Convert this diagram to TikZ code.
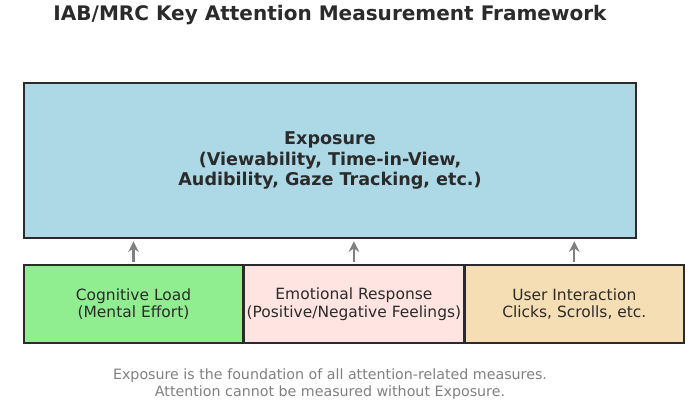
\documentclass[tikz,border=0pt]{standalone}
\usepackage{fontspec}
\setmainfont{DejaVu Sans}
\usetikzlibrary{positioning,arrows.meta}
\definecolor{boxblue}{HTML}{ADD8E6}
\definecolor{boxgreen}{HTML}{90EE90}
\definecolor{boxpink}{HTML}{FFE4E1}
\definecolor{boxwheat}{HTML}{F5DEB3}
\definecolor{inkdark}{HTML}{2B2B2B}
\tikzset{
  block/.style={rectangle, draw=inkdark, thick, text=inkdark, align=center, inner sep=0pt, font=\fontsize{8.8}{10}\selectfont},
  smallblock/.style={block, minimum width=4.38cm, minimum height=1.56cm},
  uparrow/.style={-{Stealth[length=6pt,width=6pt]}, very thick, draw=gray},
}
\begin{document}
\begin{tikzpicture}
\useasboundingbox (0,0) rectangle (14,8.28);

% Title
	\node (title) at (6.6,7.98) {\fontsize{11.4}{13}\selectfont\bfseries\color{inkdark} IAB/MRC Key Attention Measurement Framework};

% Exposure
	\node (expo) [block, fill=boxblue, minimum width=12.24cm, minimum height=3.1cm, font=\fontsize{10}{11.5}\selectfont\bfseries] at (6.6,5.07) {Exposure\\(Viewability, Time-in-View,\\Audibility, Gaze Tracking, etc.)};

% Attention components
	\node (cog) [smallblock, fill=boxgreen] at (2.67,2.2) {Cognitive Load\\(Mental Effort)};
	\node (emo) [smallblock, fill=boxpink, right=0pt of cog] {Emotional Response\\(Positive/Negative Feelings)};
	\node (user) [smallblock, fill=boxwheat, right=0pt of emo] {User Interaction\\Clicks, Scrolls, etc.};

% Arrows
	\draw [uparrow] ([yshift=1.5pt]cog.north) -- ([yshift=-1.5pt]cog.north |- expo.south);
	\draw [uparrow] ([yshift=1.5pt]emo.north) -- ([yshift=-1.5pt]emo.north |- expo.south);
	\draw [uparrow] ([yshift=1.5pt]user.north) -- ([yshift=-1.5pt]user.north |- expo.south);

% Footer
	\node (note) [text=gray, align=center, font=\fontsize{8.1}{9.2}\selectfont] at (6.6,0.6) {Exposure is the foundation of all attention-related measures.\\Attention cannot be measured without Exposure.};

\end{tikzpicture}
\end{document}
